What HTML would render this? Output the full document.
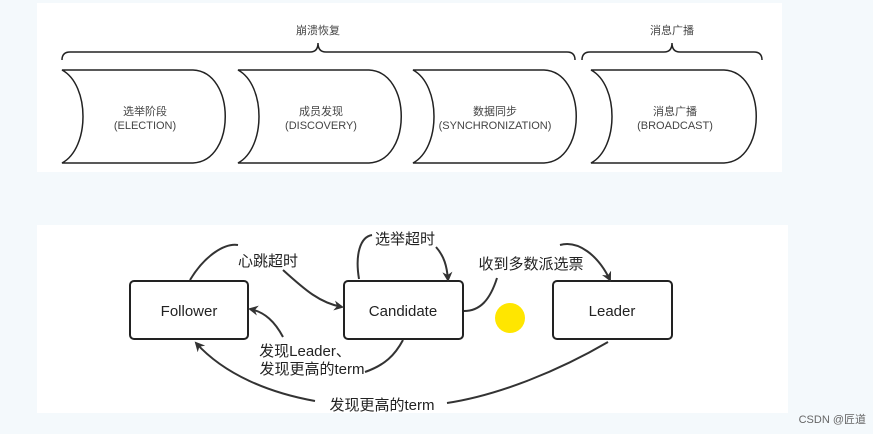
<!DOCTYPE html>
<html><head><meta charset="utf-8"><style>
html,body{margin:0;padding:0;}
body{width:873px;height:434px;background:#f4f9fc;position:relative;overflow:hidden;font-family:"Liberation Sans","Noto Sans CJK SC",sans-serif;}
svg{position:absolute;left:0;top:0;}
</style></head><body>
<svg width="873" height="434" viewBox="0 0 873 434">
<defs><marker id="a" markerWidth="10" markerHeight="10" refX="8" refY="5" orient="auto" markerUnits="userSpaceOnUse"><path d="M0,0 L10,5 L0,10 L3,5 z" fill="#333"/></marker></defs>
<rect x="37" y="3" width="745" height="169" fill="#fff"/>
<rect x="37" y="225" width="751" height="188" fill="#fff"/>
<g fill="none" stroke="#222" stroke-width="1.5">
<path d="M62,60 Q62,52 70,52 L310,52 Q318,52 318,43 Q318,52 326,52 L567,52 Q575,52 575,60"/>
<path d="M582,60 Q582,52 590,52 L664,52 Q672,52 672,43 Q672,52 680,52 L754,52 Q762,52 762,60"/>
</g>
<g fill="#fff" stroke="#222" stroke-width="1.5">
<path d="M62,70 L193,70 C236,72 236,161 193,163 L62,163 C90,148 90,85 62,70 Z"/>
<path d="M238,70 L369,70 C412,72 412,161 369,163 L238,163 C266,148 266,85 238,70 Z"/>
<path d="M413,70 L544,70 C587,72 587,161 544,163 L413,163 C441,148 441,85 413,70 Z"/>
<path d="M591,70 L724,70 C767,72 767,161 724,163 L591,163 C619,148 619,85 591,70 Z"/>
</g>
<g font-size="11" fill="#444" text-anchor="middle">
<text x="318" y="34">崩溃恢复</text><text x="672" y="34">消息广播</text>
<text x="145" y="115">选举阶段</text><text x="145" y="129">(ELECTION)</text>
<text x="321" y="115">成员发现</text><text x="321" y="129">(DISCOVERY)</text>
<text x="495" y="115">数据同步</text><text x="495" y="129">(SYNCHRONIZATION)</text>
<text x="675" y="115">消息广播</text><text x="675" y="129">(BROADCAST)</text>
</g>
<g fill="#fff" stroke="#222" stroke-width="2">
<rect x="130" y="281" width="118" height="58" rx="4"/>
<rect x="344" y="281" width="119" height="58" rx="4"/>
<rect x="553" y="281" width="119" height="58" rx="4"/>
</g>
<circle cx="510" cy="318" r="15" fill="#ffe600"/>
<g fill="none" stroke="#333" stroke-width="2">
<path d="M190,280 C205,255 225,243 238,245"/>
<path d="M283,270 C305,290 320,303 342,307" marker-end="url(#a)"/>
<path d="M359,279 C355,255 360,237 372,235"/>
<path d="M436,247 C444,256 447,266 448,280" marker-end="url(#a)"/>
<path d="M464,311 C480,311 490,300 497,278"/>
<path d="M560,245 C578,240 598,255 610,280" marker-end="url(#a)"/>
<path d="M403,340 C395,355 385,365 365,372"/>
<path d="M283,337 C275,322 265,312 250,309" marker-end="url(#a)"/>
<path d="M608,342 C560,370 500,395 447,403"/>
<path d="M315,401 C270,393 225,375 196,343" marker-end="url(#a)"/>
</g>
<g font-size="15" fill="#222" text-anchor="middle">
<text x="189" y="316">Follower</text>
<text x="403" y="316">Candidate</text>
<text x="612" y="316">Leader</text>
<text x="268" y="266">心跳超时</text>
<text x="405" y="244">选举超时</text>
<text x="531" y="269">收到多数派选票</text>
<text x="305" y="356">发现Leader、</text>
<text x="312" y="374">发现更高的term</text>
<text x="382" y="410">发现更高的term</text>
</g>
<text x="866" y="423" font-size="11" fill="#666" text-anchor="end">CSDN @匠道</text>
</svg>
</body></html>
